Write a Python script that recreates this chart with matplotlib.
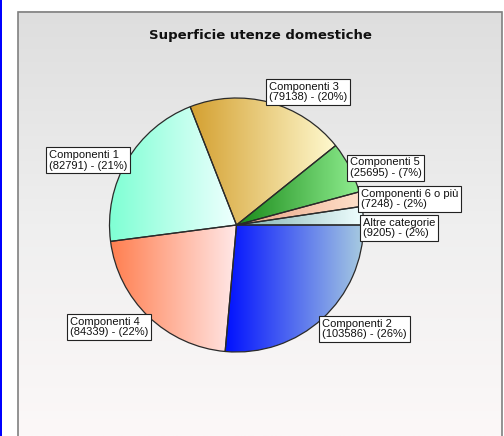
import numpy as np
import matplotlib
matplotlib.use("Agg")
import matplotlib.pyplot as plt
from matplotlib.colors import LinearSegmentedColormap
from matplotlib.patches import Rectangle

# data, in drawing order (counter-clockwise from 3 o'clock)
categories = ["Altre categorie", "Componenti 6 o più", "Componenti 5", "Componenti 3",
              "Componenti 1", "Componenti 4", "Componenti 2"]
values = [9205, 7248, 25695, 79138, 82791, 84339, 103586]

# gradient left -> right for each slice
dark_colors = ["#7fb0b0", "#e8a080", "#1a8a1a", "#d4a030", "#7fffd4", "#ff7f50", "#0010ff"]
light_colors = ["#f0ffff", "#ffe2cc", "#90ee90", "#fffad0", "#f0ffff", "#ffe8e8", "#a8cce0"]

W, H = 504, 436
fig = plt.figure(figsize=(W / 100, H / 100), dpi=100)
fig.patch.set_facecolor("white")
ax = fig.add_axes([0, 0, 1, 1])

# panel background with vertical gradient
px0, px1, ptop = 18, 502, H - 12
bg = LinearSegmentedColormap.from_list("bg", ["#fcf8f8", "#efefef", "#dedede"])
ax.imshow(np.linspace(0, 1, 256).reshape(-1, 1)[::-1], extent=[px0, px1, 0, ptop],
          cmap=bg, aspect="auto", zorder=0)
ax.add_patch(Rectangle((px0, -2), px1 - px0, ptop + 2, fill=False,
                       edgecolor="#808080", linewidth=1.2, zorder=1))
ax.add_patch(Rectangle((0, 0), 2, H, facecolor="#0000ff", edgecolor="none", zorder=1))

ax.text((px0 + px1) / 2, H - 36, "Superficie utenze domestiche", ha="center", va="center",
        fontsize=9.5, fontweight="bold", family="DejaVu Sans", color="#111111")

# pie
cx, cy, r = 236.5, H - 225, 127
wedges, _ = ax.pie(values, startangle=0, counterclock=True, center=(cx, cy), radius=r,
                   wedgeprops=dict(facecolor="none", edgecolor="#2a2a2a", linewidth=0.9))
total = sum(values)
grad = np.linspace(0, 1, 256).reshape(1, -1)
for w, c0, c1 in zip(wedges, dark_colors, light_colors):
    w.set_zorder(3)
    ext = w.get_path().get_extents()
    cmap = LinearSegmentedColormap.from_list("g", [c0, c1])
    im = ax.imshow(grad, extent=[ext.x0, ext.x1, ext.y0, ext.y1], cmap=cmap,
                   aspect="auto", zorder=2)
    im.set_clip_path(w)

for w, name, v in zip(wedges, categories, values):
    mid = np.deg2rad((w.theta1 + w.theta2) / 2)
    x, y = cx + r * np.cos(mid), cy + r * np.sin(mid)
    s = np.sin(mid)
    ha = "left" if np.cos(mid) >= 0 else "right"
    va = "bottom" if s > 0.85 else ("top" if s < -0.5 else "center")
    if name == "Altre categorie":
        va = "top"
        y -= 2
    ax.text(x, y, f"{name}\n({v}) - ({int(round(100 * v / total))}%)",
            ha=ha, va=va, multialignment="left", fontsize=8, family="Liberation Sans",
            linespacing=1.05, color="#111111", zorder=5,
            bbox=dict(boxstyle="square,pad=0.25", facecolor="white",
                      edgecolor="#222222", linewidth=0.8))

ax.set_xlim(0, W)
ax.set_ylim(0, H)
ax.set_axis_off()
fig.savefig("out.png", dpi=100)
